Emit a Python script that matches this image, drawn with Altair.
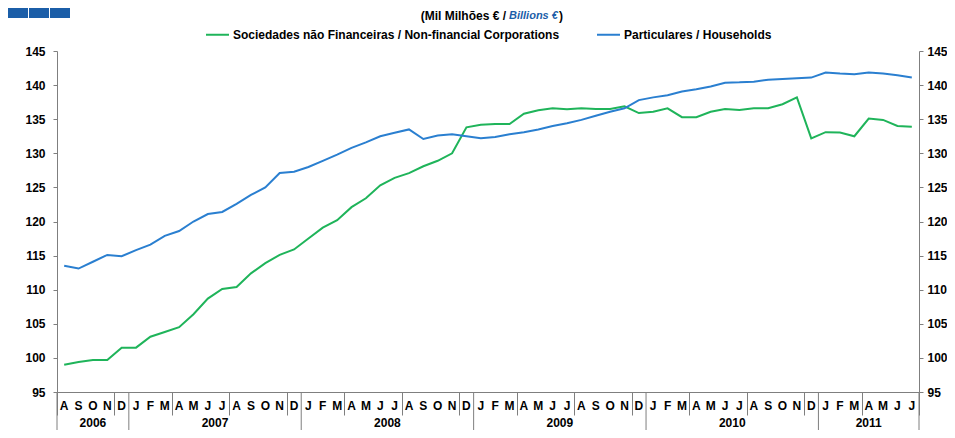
import altair as alt
import pandas as pd

# ---------------- data ----------------
month_letters = list("ASOND") + list("JFMAMJJASOND") * 4 + list("JFMAMJJ")
month_years = ["2006"] * 5 + ["2007"] * 12 + ["2008"] * 12 + ["2009"] * 12 + ["2010"] * 12 + ["2011"] * 7

corporations = [99.0, 99.4, 99.7, 99.7, 101.5, 101.5, 103.1, 103.8, 104.5, 106.4,
                108.7, 110.1, 110.4, 112.4, 113.9, 115.1, 115.9, 117.5, 119.1, 120.2,
                122.1, 123.4, 125.3, 126.4, 127.1, 128.1, 128.9, 130.0, 133.8, 134.2,
                134.3, 134.3, 135.8, 136.3, 136.6, 136.45, 136.6, 136.5, 136.5, 136.9,
                135.9, 136.1, 136.6, 135.3, 135.3, 136.1, 136.5, 136.35, 136.6, 136.6,
                137.2, 138.2, 132.2, 133.1, 133.05, 132.5, 135.1, 134.9, 134.0, 133.9]

households = [113.5, 113.1, 114.1, 115.1, 114.9, 115.8, 116.6, 117.9, 118.6, 120.0,
              121.1, 121.4, 122.6, 123.9, 125.0, 127.1, 127.3, 128.0, 128.9, 129.8,
              130.8, 131.6, 132.5, 133.0, 133.5, 132.1, 132.6, 132.8, 132.5, 132.2,
              132.4, 132.8, 133.1, 133.5, 134.0, 134.4, 134.9, 135.5, 136.1, 136.6,
              137.8, 138.2, 138.5, 139.05, 139.4, 139.8, 140.35, 140.4, 140.5, 140.8,
              140.9, 141.0, 141.1, 141.85, 141.7, 141.6, 141.85, 141.7, 141.45, 141.1]

series_names = ["Sociedades não Financeiras / Non-financial Corporations",
                "Particulares / Households"]
series_colors = ["#1fb45a", "#2a7fd0"]
y_ticks = [95, 100, 105, 110, 115, 120, 125, 130, 135, 140, 145]

# ---------------- tables ----------------
n = len(month_letters)
rows = []
for i in range(n):
    rows.append({"pos": i + 0.5, "value": corporations[i], "series": series_names[0]})
    rows.append({"pos": i + 0.5, "value": households[i], "series": series_names[1]})
df_lines = pd.DataFrame(rows)

df_months = pd.DataFrame({"pos": [i + 0.5 for i in range(n)], "letter": month_letters})

year_labels = []
year_start = []
for i, y in enumerate(month_years):
    if not year_labels or year_labels[-1] != y:
        year_labels.append(y)
        year_start.append(i)
year_end = year_start[1:] + [n]
df_years = pd.DataFrame({
    "year": year_labels,
    "center": [(a + b) / 2 for a, b in zip(year_start, year_end)],
})
df_bounds = pd.DataFrame({"b": year_start + [n]})

# ---------------- styling ----------------
W, H = 862, 341
FONT = "Liberation Sans"
AX = "#7f7f7f"

xscale = alt.Scale(domain=[0, n], nice=False, zero=False)
yscale = alt.Scale(domain=[95, 145], nice=False, zero=False)

x_axis = alt.Axis(title=None, labels=False, ticks=True, tickSize=23, values=list(range(n + 1)),
                  domainColor=AX, tickColor=AX, grid=False, domainWidth=1, tickWidth=1)

def y_axis(orient, pad):
    return alt.Axis(orient=orient, title=None, values=y_ticks, grid=False, domainColor=AX,
                    tickColor=AX, tickSize=4, labelPadding=pad, labelFont=FONT,
                    labelFontSize=12, labelFontWeight="bold", labelColor="black")

lines = alt.Chart(df_lines).mark_line(strokeWidth=2).encode(
    x=alt.X("pos:Q", scale=xscale, axis=x_axis),
    y=alt.Y("value:Q", scale=yscale, axis=y_axis("left", 8)),
    color=alt.Color("series:N", scale=alt.Scale(domain=series_names, range=series_colors),
                    legend=alt.Legend(title=None, orient="none", legendX=148, legendY=-29,
                                      direction="horizontal", symbolType="stroke",
                                      symbolSize=529, symbolStrokeWidth=2, labelFont=FONT,
                                      labelFontSize=12, labelFontWeight="bold", labelLimit=600,
                                      labelColor="black", labelOffset=3, columnPadding=33)),
)

right = alt.Chart(df_lines).mark_line(opacity=0).encode(
    x=alt.X("pos:Q", scale=xscale),
    y=alt.Y("value:Q", scale=yscale, axis=y_axis("right", 4)),
)

bounds = alt.Chart(df_bounds).mark_rule(color=AX, strokeWidth=1).encode(
    x=alt.X("b:Q", scale=xscale), y=alt.value(H), y2=alt.value(H + 44))

months = alt.Chart(df_months).mark_text(font=FONT, fontSize=12, fontWeight="bold",
                                       color="black", baseline="middle").encode(
    x=alt.X("pos:Q", scale=xscale), y=alt.value(H + 14), text="letter:N")

years = alt.Chart(df_years).mark_text(font=FONT, fontSize=12, fontWeight="bold",
                                     color="black", baseline="middle").encode(
    x=alt.X("center:Q", scale=xscale), y=alt.value(H + 31), text="year:N")

one = pd.DataFrame({"a": [0]})
LOGO = "#1b5ea8"
logo = [
    alt.Chart(one).mark_rect(color=LOGO).encode(
        x=alt.value(x0), x2=alt.value(x0 + 20), y=alt.value(-45), y2=alt.value(-33))
    for x0 in (-49, -28, -7)
]

t1 = alt.Chart(one).mark_text(font=FONT, fontSize=12, fontWeight="bold", color="black",
                              align="right", baseline="middle").encode(
    x=alt.value(449), y=alt.value(-35), text=alt.value("(Mil Milhões € /"))
t2 = alt.Chart(one).mark_text(font=FONT, fontSize=11, fontWeight="bold", fontStyle="italic",
                              color="#1b5ea8", align="left", baseline="middle").encode(
    x=alt.value(452), y=alt.value(-35), text=alt.value("Billions   €"))
t3 = alt.Chart(one).mark_text(font=FONT, fontSize=12, fontWeight="bold", color="black",
                              align="left", baseline="middle").encode(
    x=alt.value(502), y=alt.value(-35), text=alt.value(")"))

chart = alt.layer(lines, right, bounds, months, years, *logo, t1, t2, t3).resolve_axis(
    y="independent"
).properties(
    width=W, height=H,
    autosize=alt.AutoSizeParams(type="none"),
    padding={"left": 49, "top": 43, "right": 28, "bottom": 38},
    background="white",
).configure_view(stroke=None)

chart.save("out.html", embed_options={"renderer": "svg", "actions": False})
